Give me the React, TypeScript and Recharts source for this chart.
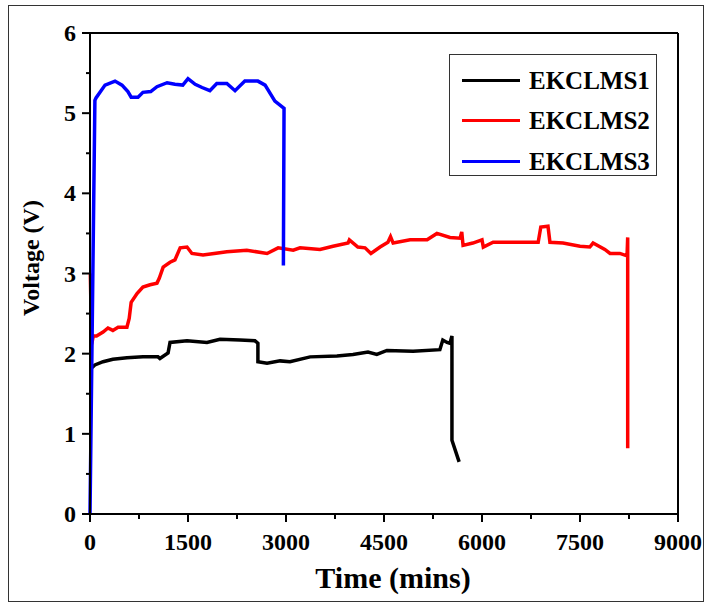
import React from "react";
import { LineChart, Line, XAxis, YAxis, ReferenceLine } from "recharts";

// EKCLMS1 (black)
const s1Time = [20, 75, 200, 350, 565, 810, 1040, 1070, 1195, 1225, 1485, 1790, 1990, 2295, 2525, 2570, 2570, 2710, 2910, 3060, 3370, 3780, 4025, 4255, 4390, 4545, 4945, 5355, 5400, 5465, 5510, 5540, 5540, 5650];
const s1Volt = [1.82, 1.86, 1.9, 1.93, 1.95, 1.96, 1.96, 1.94, 2.01, 2.14, 2.16, 2.14, 2.18, 2.17, 2.16, 2.13, 1.9, 1.88, 1.91, 1.9, 1.96, 1.97, 1.99, 2.02, 1.99, 2.04, 2.03, 2.05, 2.17, 2.14, 2.13, 2.22, 0.92, 0.65];

// EKCLMS2 (red)
const s2Time = [5, 25, 50, 100, 200, 275, 350, 430, 565, 600, 630, 720, 810, 920, 1025, 1060, 1120, 1225, 1300, 1380, 1485, 1560, 1730, 2095, 2400, 2710, 2880, 3110, 3215, 3520, 3720, 3950, 3970, 4100, 4210, 4300, 4440, 4560, 4600, 4640, 4900, 5160, 5310, 5510, 5665, 5690, 5710, 5860, 6000, 6020, 6170, 6475, 6860, 6900, 7010, 7040, 7240, 7500, 7650, 7700, 7880, 7960, 8110, 8220, 8230, 8230];
const s2Volt = [3.0, 2.12, 2.22, 2.22, 2.27, 2.32, 2.29, 2.33, 2.33, 2.44, 2.64, 2.75, 2.83, 2.86, 2.88, 2.94, 3.08, 3.14, 3.17, 3.32, 3.33, 3.25, 3.23, 3.27, 3.29, 3.25, 3.32, 3.29, 3.32, 3.3, 3.34, 3.38, 3.42, 3.33, 3.32, 3.25, 3.33, 3.39, 3.46, 3.38, 3.42, 3.42, 3.5, 3.45, 3.44, 3.52, 3.35, 3.38, 3.42, 3.33, 3.39, 3.39, 3.39, 3.58, 3.59, 3.39, 3.38, 3.34, 3.33, 3.38, 3.3, 3.25, 3.25, 3.22, 3.45, 0.82];

// EKCLMS3 (blue)
const s3Time = [0, 75, 92, 230, 383, 490, 580, 630, 735, 810, 930, 1025, 1180, 1300, 1420, 1500, 1610, 1715, 1835, 1940, 2095, 2220, 2370, 2570, 2680, 2830, 2970, 2960];
const s3Volt = [0, 5.16, 5.19, 5.35, 5.4, 5.35, 5.27, 5.2, 5.2, 5.26, 5.27, 5.33, 5.38, 5.36, 5.35, 5.43, 5.36, 5.32, 5.28, 5.37, 5.37, 5.28, 5.4, 5.4, 5.35, 5.15, 5.06, 3.1];

const seriesNames = ["EKCLMS1", "EKCLMS2", "EKCLMS3"];
const seriesColors = ["#000000", "#ff0000", "#0000ff"];

const xTicks = [0, 750, 1500, 2250, 3000, 3750, 4500, 5250, 6000, 6750, 7500, 8250, 9000];
const yTicks = [0, 0.5, 1, 1.5, 2, 2.5, 3, 3.5, 4, 4.5, 5, 5.5, 6];

const toRows = (t: number[], v: number[]) => t.map((x, i) => ({ t: x, v: v[i] }));
const series = [
  toRows(s1Time, s1Volt),
  toRows(s2Time, s2Volt),
  toRows(s3Time, s3Volt),
];

const FONT = "'Liberation Serif', 'Times New Roman', serif";
const textStyle = { fontFamily: FONT, fontWeight: 700 };

const XTick = (props: any) => {
  const { x, y, payload } = props;
  const major = payload.value % 1500 === 0;
  return (
    <g>
      <line x1={x} x2={x} y1={y} y2={y + (major ? 8 : 5)} stroke="#000" strokeWidth={2} />
      {major && (
        <text x={x} y={y + 36} textAnchor="middle" style={textStyle} fontSize={24} fill="#000">
          {payload.value}
        </text>
      )}
    </g>
  );
};

const YTick = (props: any) => {
  const { x, y, payload } = props;
  const major = Number.isInteger(payload.value);
  return (
    <g>
      <line x1={x - (major ? 8 : 4)} x2={x} y1={y} y2={y} stroke="#000" strokeWidth={2} />
      {major && (
        <text x={x - 14} y={y + 8} textAnchor="end" style={textStyle} fontSize={24} fill="#000">
          {payload.value}
        </text>
      )}
    </g>
  );
};

const LegendBox = () => (
  <div
    style={{
      position: "absolute",
      left: 449,
      top: 54,
      width: 208,
      height: 122,
      border: "1.5px solid #333",
      background: "#fff",
      boxSizing: "border-box",
      paddingTop: 5,
    }}
  >
    {seriesNames.map((n, i) => (
      <div key={n} style={{ display: "flex", alignItems: "center", height: 40.5 }}>
        <div style={{ marginLeft: 12, width: 58, height: 3, background: seriesColors[i] }} />
        <span
          style={{
            marginLeft: 9,
            ...textStyle,
            fontSize: 25,
            color: "#000",
            lineHeight: "25px",
          }}
        >
          {n}
        </span>
      </div>
    ))}
  </div>
);

export default function App() {
  return (
    <div style={{ position: "absolute", left: 0, top: 0, width: 707, height: 605, background: "#fff" }}>
      <div
        style={{
          position: "absolute",
          left: 8,
          top: 5,
          width: 696,
          height: 597,
          border: "1.5px solid #333",
          boxSizing: "border-box",
        }}
      />
      <div style={{ position: "absolute", left: 0, top: 0 }}>
        <LineChart width={707} height={605} margin={{ top: 33, right: 29, bottom: 31, left: 30 }}>
          <XAxis
            type="number"
            dataKey="t"
            domain={[0, 9000]}
            ticks={xTicks}
            interval={0}
            allowDuplicatedCategory={false}
            height={60}
            tickSize={0}
            tickMargin={0}
            tickLine={false}
            tick={<XTick />}
            axisLine={{ stroke: "#000", strokeWidth: 2 }}
            label={() => (
              <text x={393} y={588} textAnchor="middle" style={textStyle} fontSize={30} fill="#000">
                Time (mins)
              </text>
            )}
          />
          <YAxis
            type="number"
            dataKey="v"
            domain={[0, 6]}
            ticks={yTicks}
            interval={0}
            width={60}
            tickSize={0}
            tickMargin={0}
            tickLine={false}
            tick={<YTick />}
            axisLine={{ stroke: "#000", strokeWidth: 2 }}
            label={() => (
              <text
                x={39}
                y={258}
                transform="rotate(-90, 39, 258)"
                textAnchor="middle"
                style={textStyle}
                fontSize={24}
                fill="#000"
              >
                Voltage (V)
              </text>
            )}
          />
          <ReferenceLine y={6} stroke="#000" strokeWidth={2} />
          <ReferenceLine x={9000} stroke="#000" strokeWidth={2} />
          {series.map((d, i) => (
            <Line
              key={seriesNames[i]}
              data={d}
              dataKey="v"
              name={seriesNames[i]}
              type="linear"
              stroke={seriesColors[i]}
              strokeWidth={3.5}
              dot={false}
              activeDot={false}
              isAnimationActive={false}
            />
          ))}
        </LineChart>
      </div>
      <LegendBox />
    </div>
  );
}
